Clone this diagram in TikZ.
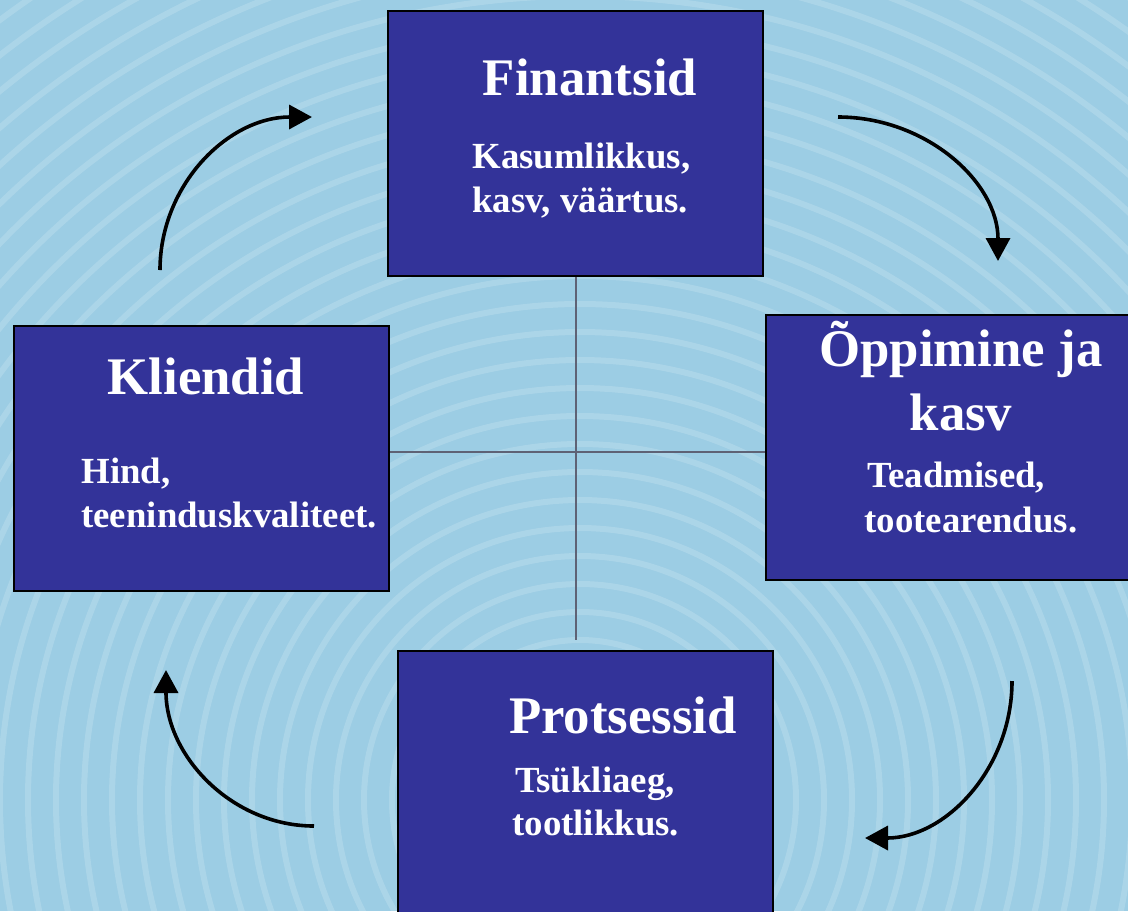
\documentclass[tikz,border=0pt]{standalone}
\usepackage{fontspec}
\setmainfont{Liberation Serif}
\usetikzlibrary{arrows.meta,positioning}
\definecolor{boxblue}{HTML}{333399}
\definecolor{skyblue}{HTML}{9CCDE4}
\definecolor{crossgray}{HTML}{5E6275}

\begin{document}
\begin{tikzpicture}[
x=0.5pt,y=-0.5pt,
box/.style={
  draw=black,
  fill=boxblue,
  line width=0.8pt,
  minimum width=187.5pt,
  minimum height=132.5pt,
  inner sep=0pt
},
title/.style={
  text=white,
  font=\bfseries\fontsize{26.4}{31.5}\selectfont,
  inner sep=0pt
},
sub/.style={
  text=white,
  font=\bfseries\fontsize{18.4}{22}\selectfont,
  inner sep=0pt,
  anchor=base west
},
cyc/.style={
  line width=1.8pt,
  -{Triangle[length=11.5pt,width=12pt]}
},
ripple/.style={white,opacity=0.16,line width=3pt}
]
\useasboundingbox (0,0) rectangle (1128,911);
\begin{scope}
\clip (0,0) rectangle (1128,911);
\fill[skyblue] (0,0) rectangle (1128,911);
\foreach \r in {20,48,...,1200}
  \draw[ripple] (580,800) circle (\r);
\end{scope}

% cross
\draw[crossgray,line width=1pt] (576,276) -- (576,640);
\draw[crossgray,line width=1pt] (389,452) -- (766,452);

% boxes
\node[box] (fin) at (575.5,143.5) {};
\node[box] (opp) at (953.5,447.5) {};
\node[box] (kli) at (201.5,458.5) {};
\node[box] (pro) at (585.5,783.5) {};

\node[title,anchor=base] (finT) at (590,95) {Finantsid};
\node[sub] (fin1) at (472,168) {Kasumlikkus,};
\node[sub] (fin2) at (472,212) {kasv, väärtus.};

\node[title,anchor=base] (oppT) at (961,366) {Õppimine ja};
\node[title,anchor=base] (oppT2) at (961,430) {kasv};
\node[sub] (opp1) at (867,487) {Teadmised,};
\node[sub] (opp2) at (864,532) {tootearendus.};

\node[title,anchor=base] (kliT) at (206,394) {Kliendid};
\node[sub] (kli1) at (81,483) {Hind,};
\node[sub] (kli2) at (81,527) {teeninduskvaliteet.};

\node[title,anchor=base] (proT) at (623,733) {Protsessid};
\node[sub] (pro1) at (515,792) {Tsükliaeg,};
\node[sub] (pro2) at (512,835) {tootlikkus.};

% cycle arrows
\coordinate (a1s) at (160,270);
\coordinate (a1e) at (312,117);
\coordinate (a2s) at (838,117);
\coordinate (a2e) at (998,261);
\coordinate (a3s) at (1012,681);
\coordinate (a3e) at (865,838);
\coordinate (a4s) at (314,826);
\coordinate (a4e) at (166,670);
\draw[cyc] (a1s) .. controls +(0,-85) and +(-84,0) .. (a1e);
\draw[cyc] (a2s) .. controls +(88,0) and +(0,-79) .. (a2e);
\draw[cyc] (a3s) .. controls +(0,87) and +(81,0) .. (a3e);
\draw[cyc] (a4s) .. controls +(-82,0) and +(0,86) .. (a4e);
\end{tikzpicture}
\end{document}
